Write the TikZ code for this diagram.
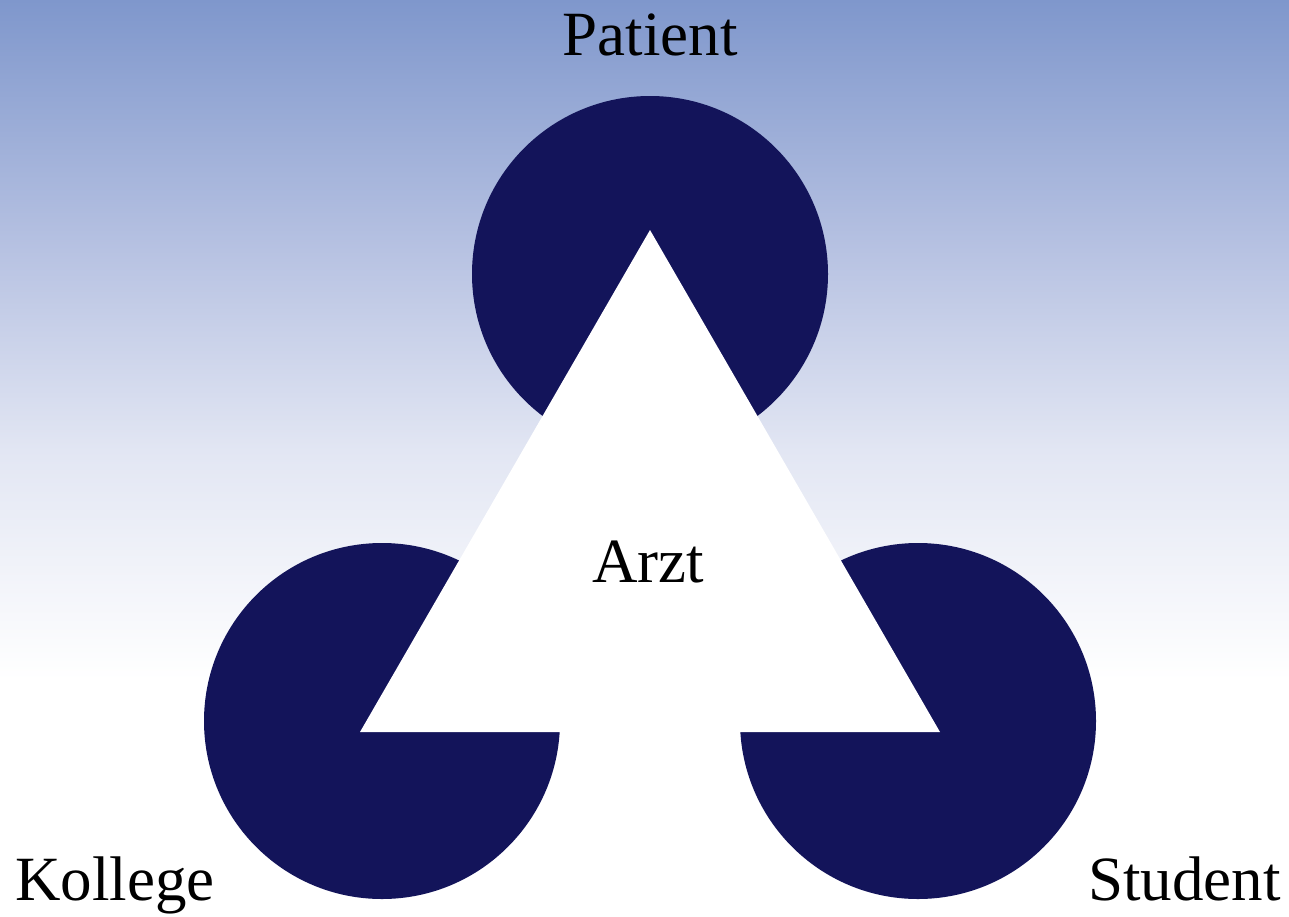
\documentclass[tikz,border=0pt]{standalone}
\usepackage{fontspec}
\setmainfont{Liberation Serif}
\definecolor{bgtop}{RGB}{127,151,204}
\definecolor{bgmidA}{RGB}{183,194,226}
\definecolor{bgmidB}{RGB}{226,230,243}
\definecolor{disc}{RGB}{19,20,90}
\tikzset{
  lbl/.style={inner sep=0pt, anchor=base, font=\fontsize{63}{70}\selectfont, text=black},
  pac/.style={fill=disc, draw=none}
}
\begin{document}
\begin{tikzpicture}[x=1pt,y=-1pt]
\useasboundingbox (0,0) rectangle (1289,916);
\fill[white] (0,0) rectangle (1289,916);
\shade[top color=bgtop, bottom color=bgmidA] (0,0) rectangle (1289,250.5);
\shade[top color=bgmidA, bottom color=bgmidB] (0,250) rectangle (1289,450.5);
\shade[top color=bgmidB, bottom color=white] (0,450) rectangle (1289,680);
% discs
\fill[pac] (650,274) circle (178pt);
\fill[pac] (382,721) circle (178pt);
\fill[pac] (918,721) circle (178pt);
% illusory triangle
\coordinate (tA) at (650,230);
\coordinate (tB) at (360,732);
\coordinate (tC) at (940,732);
\fill[white] (tA) -- (tB) -- (tC) -- cycle;
% labels
\node[lbl] (patient) at (650,55) {Patient};
\node[lbl] (arzt) at (648,582) {Arzt};
\node[lbl, anchor=base west] (kollege) at (15,900) {Kollege};
\node[lbl, anchor=base east] (student) at (1281,900) {Student};
\end{tikzpicture}
\end{document}
